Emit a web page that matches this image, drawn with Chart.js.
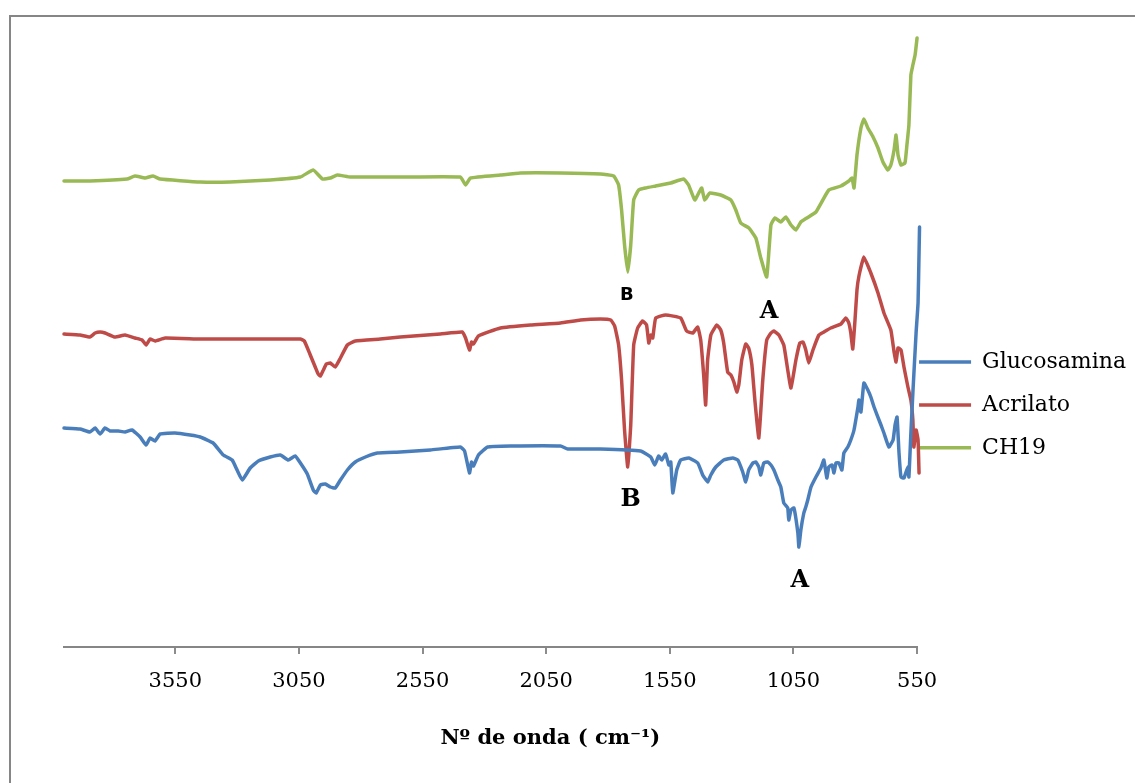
<!DOCTYPE html>
<html><head><meta charset="utf-8">
<script src="https://cdn.jsdelivr.net/npm/chart.js@4.4.1/dist/chart.umd.min.js"></script>
<style>html,body{margin:0;padding:0;background:#fff}#wrap{width:1135px;height:783px}</style>
</head><body><div id="wrap"><canvas id="c" width="1135" height="783"></canvas></div>
<script>
// ---- data (wavenumber in cm-1, transmittance in arbitrary offset units) ----
const tickValues = [3550, 3050, 2550, 2050, 1550, 1050, 550];
const seriesNames = ['Glucosamina', 'Acrilato', 'CH19'];

const glucosaminaX = [4000,3935,3895,3874,3854,3834,3814,3781,3753,3725,3692,3668,3652,3632,3611,3551,3490,3449,3397,3356,3320,3300,3279,3247,3214,3166,3125,3093,3065,3044,3016,2992,2980,2963,2943,2923,2903,2882,2854,2822,2781,2733,2640,2518,2397,2380,2360,2352,2344,2324,2287,2194,1992,1963,1830,1668,1627,1611,1595,1583,1567,1554,1546,1538,1522,1506,1473,1437,1417,1409,1397,1384,1364,1332,1295,1275,1255,1243,1231,1214,1202,1190,1182,1170,1154,1141,1129,1113,1101,1089,1073,1069,1060,1048,1032,1028,1020,1008,1000,992,979,959,939,927,915,907,894,886,878,866,854,846,830,818,805,789,785,777,765,749,737,724,696,684,664,647,639,631,623,615,603,587,583,575,567,554,546,542,540];
const glucosaminaY = [43.8,43.6,43.0,43.8,42.6,43.8,43.2,43.2,43.0,43.4,42.0,40.4,41.8,41.2,42.6,42.8,42.4,42.0,40.8,38.4,37.4,35.4,33.4,35.8,37.2,38.0,38.4,37.4,38.2,36.8,34.6,31.4,30.8,32.4,32.6,32.0,31.8,33.4,35.4,37.0,38.0,38.8,39.0,39.4,40.0,39.2,34.8,37.0,36.2,38.4,40.0,40.2,40.2,39.6,39.6,39.2,38.0,36.4,38.2,37.4,38.6,36.4,37.0,30.8,35.4,37.4,37.8,36.8,34.4,33.8,33.0,34.4,36.0,37.4,37.8,37.4,35.0,33.0,35.4,36.8,37.0,36.0,34.4,36.8,37.0,36.4,35.4,33.4,32.0,28.8,27.8,25.4,27.4,27.8,22.8,20.0,23.4,26.8,28.0,29.4,32.0,34.0,35.8,37.4,33.8,36.0,36.4,34.8,36.8,36.8,35.4,38.8,40.0,41.4,43.4,48.0,49.4,47.0,52.8,51.4,50.0,48.0,44.4,42.8,40.0,41.4,44.4,46.0,38.8,34.0,33.8,36.0,34.0,42.8,50.8,62.8,68.8,78.8,84.0];

const acrilatoX = [4000,3935,3895,3874,3854,3834,3794,3753,3713,3684,3668,3652,3632,3591,3449,3247,3044,3028,3004,2984,2972,2963,2951,2939,2923,2903,2882,2854,2822,2721,2640,2478,2389,2376,2360,2352,2344,2324,2235,2113,1992,1911,1830,1789,1773,1757,1745,1733,1720,1708,1696,1680,1660,1644,1635,1627,1619,1607,1567,1506,1482,1457,1437,1425,1413,1405,1397,1384,1360,1344,1332,1316,1303,1291,1279,1271,1259,1243,1231,1218,1206,1190,1174,1158,1141,1129,1109,1089,1073,1060,1040,1024,1012,1000,988,971,947,927,899,858,838,826,818,810,801,793,785,765,737,708,684,656,643,635,627,615,603,587,575,567,563,554,546,542];
const acrilatoY = [62.6,62.4,62.0,62.8,63.0,62.8,62.0,62.4,61.8,61.4,60.4,61.6,61.2,61.8,61.6,61.6,61.6,61.2,58.4,56.0,54.6,54.2,55.4,56.6,56.8,56.0,57.8,60.4,61.2,61.6,62.0,62.6,63.0,61.8,59.4,61.0,60.6,62.2,63.8,64.4,64.8,65.4,65.6,65.4,64.2,60.4,53.4,43.4,36.0,44.4,60.4,63.8,65.2,64.4,60.8,62.4,61.8,65.8,66.4,65.8,63.2,62.8,64.0,61.4,54.4,48.4,57.4,62.4,64.4,63.4,60.8,55.0,54.4,53.0,51.0,52.4,57.4,60.6,59.8,56.4,49.4,41.8,53.4,61.4,62.8,63.2,62.4,60.4,55.4,51.8,57.4,60.8,61.0,59.4,56.8,59.4,62.4,63.0,63.8,64.6,65.8,64.8,62.8,59.6,65.4,71.4,74.2,78.0,74.8,70.8,66.8,63.4,59.0,57.0,59.8,59.4,56.0,52.0,49.4,45.4,40.0,43.4,41.4,34.8];

const ch19X = [4000,3895,3745,3713,3672,3640,3611,3449,3328,3166,3044,2992,2955,2923,2895,2842,2640,2397,2376,2356,2235,2154,1992,1830,1777,1757,1745,1733,1720,1708,1696,1676,1648,1607,1546,1494,1474,1449,1433,1421,1409,1388,1344,1303,1283,1263,1230,1202,1182,1158,1141,1125,1101,1081,1060,1040,1020,996,959,931,907,858,826,813,805,793,777,765,749,728,708,688,668,656,643,635,627,615,599,591,583,575,567,558,550];
const ch19Y = [93.2,93.2,93.6,94.2,93.8,94.2,93.6,93.0,93.0,93.4,94.0,95.4,93.6,93.8,94.4,94.0,94.0,94.0,92.4,93.8,94.4,94.8,94.8,94.6,94.2,92.4,87.4,80.4,75.0,80.4,89.4,91.4,91.8,92.2,92.8,93.6,92.4,89.4,90.8,91.8,89.4,90.8,90.4,89.4,87.4,84.8,83.8,81.8,77.8,74.0,84.4,85.8,85.0,86.0,84.4,83.4,85.0,85.8,87.0,89.4,91.4,92.2,93.2,93.8,91.8,98.4,103.8,105.6,103.8,102.0,99.8,97.0,95.4,96.4,99.4,102.4,98.4,96.4,96.8,100.4,104.4,114.4,116.4,118.4,121.8];

// peak labels: [text, wavenumber, value]
const peakLabelText = ['B', 'A', 'B', 'A'];
const peakLabelX = [1724, 1149, 1708, 1024];
const peakLabelY = [70.4, 67.0, 29.4, 13.2];

const seriesColors = ['#4a7ebb', '#be4b48', '#98b954'];

function pts(xs, ys) { return xs.map((x, i) => ({x: x, y: ys[i]})); }

const frame = {
  id: 'frame',
  beforeDraw(chart) {
    const ctx = chart.ctx;
    ctx.save();
    ctx.fillStyle = '#fff';
    ctx.fillRect(0, 0, chart.width, chart.height);
    ctx.strokeStyle = '#868686';
    ctx.lineWidth = 2;
    ctx.strokeRect(10, 16, 3000, 3000);
    ctx.restore();
  },
  afterDraw(chart) {
    const ctx = chart.ctx, xs = chart.scales.x, ys = chart.scales.y;
    ctx.save();
    ctx.fillStyle = '#000';
    ctx.textAlign = 'center';
    ctx.textBaseline = 'middle';
    peakLabelText.forEach((t, i) => {
      ctx.font = i === 0 ? 'bold 18px "DejaVu Sans"' : 'bold 24px "DejaVu Serif"';
      ctx.fillText(t, xs.getPixelForValue(peakLabelX[i]), ys.getPixelForValue(peakLabelY[i]));
    });
    ctx.font = 'bold 21px "DejaVu Serif"';
    const ca = chart.chartArea;
    ctx.fillText('Nº de onda ( cm⁻¹)', ca.left + (ca.right - ca.left) * 0.57, 739);
    ctx.restore();
  }
};

const mk = (name, xs, ys, col) => ({
  label: name, data: pts(xs, ys), borderColor: col, backgroundColor: col,
  showLine: true, pointRadius: 0, borderWidth: 3.5, tension: 0.12,
  borderJoinStyle: 'round', borderCapStyle: 'round', clip: false
});

new Chart(document.getElementById('c'), {
  type: 'scatter',
  data: { datasets: [
    mk(seriesNames[0], glucosaminaX, glucosaminaY, seriesColors[0]),
    mk(seriesNames[1], acrilatoX, acrilatoY, seriesColors[1]),
    mk(seriesNames[2], ch19X, ch19Y, seriesColors[2])
  ]},
  options: {
    responsive: false, animation: false, devicePixelRatio: 1,
    layout: { padding: { left: 64, top: 22, right: -1, bottom: 0 } },
    scales: {
      x: {
        type: 'linear', reverse: true, min: 550, max: 4000, position: 'bottom',
        afterBuildTicks: (axis) => { axis.ticks = tickValues.map(v => ({value: v})); },
        afterFit: (s) => { s.height = 136; },
        ticks: { color: '#000', font: { family: '"DejaVu Serif"', size: 21 }, padding: 15, maxRotation: 0,
                 callback: (v) => String(v) },
        grid: { display: true, drawOnChartArea: false, drawTicks: true, tickLength: 7, color: '#8c8c8c', lineWidth: 2 },
        border: { display: true, color: '#868686', width: 2 }
      },
      y: { display: false, min: 0, max: 125 }
    },
    plugins: {
      tooltip: { enabled: false },
      legend: {
        position: 'right', align: 'start',
        title: { display: true, text: '', padding: { top: 315, bottom: 0 }, font: { size: 10, lineHeight: 1.2 } },
        labels: {
          usePointStyle: true, pointStyle: 'line', pointStyleWidth: 52, padding: 2, color: '#000',
          font: { family: '"DejaVu Serif"', size: 22, lineHeight: 1.86 },
          generateLabels: (chart) => Chart.defaults.plugins.legend.labels.generateLabels(chart)
            .map(it => Object.assign(it, { text: [it.text] }))
        }
      }
    }
  },
  plugins: [frame]
});
</script></body></html>
